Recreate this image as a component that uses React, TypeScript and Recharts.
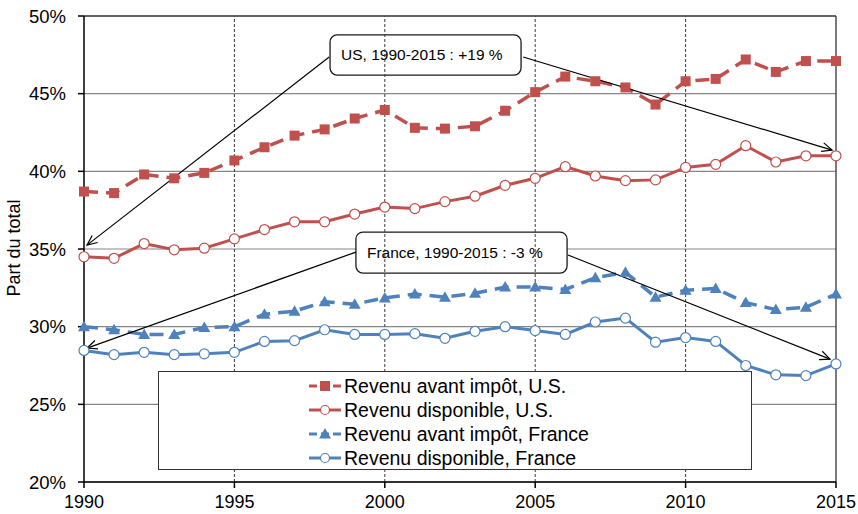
import React from 'react';
import {
  LineChart,
  Line,
  XAxis,
  YAxis,
  CartesianGrid,
  ReferenceLine,
  ReferenceArea,
  Legend,
} from 'recharts';

const years = [
  1990, 1991, 1992, 1993, 1994, 1995, 1996, 1997, 1998, 1999, 2000, 2001, 2002,
  2003, 2004, 2005, 2006, 2007, 2008, 2009, 2010, 2011, 2012, 2013, 2014, 2015,
];

const usPreTax = [
  38.7, 38.6, 39.8, 39.55, 39.9, 40.7, 41.55, 42.3, 42.7, 43.4, 43.95, 42.8, 42.75,
  42.9, 43.9, 45.1, 46.1, 45.8, 45.4, 44.3, 45.8, 45.95, 47.2, 46.4, 47.1, 47.1,
];

const usDisposable = [
  34.5, 34.4, 35.35, 34.95, 35.05, 35.65, 36.25, 36.75, 36.75, 37.25, 37.7, 37.6,
  38.05, 38.4, 39.1, 39.55, 40.3, 39.7, 39.4, 39.45, 40.25, 40.45, 41.65, 40.6, 41.0,
  41.0,
];

const frPreTax = [
  30.0, 29.8, 29.5, 29.5, 29.95, 30.0, 30.8, 31.0, 31.6, 31.45, 31.85, 32.1, 31.9,
  32.15, 32.55, 32.55, 32.4, 33.15, 33.5, 31.9, 32.35, 32.45, 31.55, 31.1, 31.25, 32.1,
];

const frDisposable = [
  28.47, 28.2, 28.35, 28.2, 28.25, 28.35, 29.05, 29.1, 29.8, 29.5, 29.5, 29.55, 29.25,
  29.7, 30.0, 29.75, 29.5, 30.3, 30.55, 29.0, 29.3, 29.05, 27.5, 26.9, 26.85, 27.6,
];

const xTicks = [1990, 1995, 2000, 2005, 2010, 2015];
const yTicks = [20, 25, 30, 35, 40, 45, 50];
const vGridYears = [1995, 2000, 2005, 2010];

const seriesNames = [
  'Revenu avant impôt, U.S.',
  'Revenu disponible, U.S.',
  'Revenu avant impôt, France',
  'Revenu disponible, France',
];

// Annotation callouts (data coordinates)
const usLabel = 'US, 1990-2015 : +19 %';
const usBox = { x1: 1998.18, x2: 2004.53, y1: 46.2, y2: 48.78 };
const usArrows = [
  [{ x: 1998.15, y: 47.36 }, { x: 1990.1, y: 35.25 }],
  [{ x: 2004.6, y: 47.36 }, { x: 2014.87, y: 41.37 }],
];
const frLabel = 'France, 1990-2015 : -3 %';
const frBox = { x1: 1999.04, x2: 2006.06, y1: 33.45, y2: 36.09 };
const frArrows = [
  [{ x: 1999.04, y: 34.8 }, { x: 1990.1, y: 28.62 }],
  [{ x: 2006.09, y: 34.61 }, { x: 2014.8, y: 27.91 }],
];

const data = years.map((year, i) => ({
  year,
  usPre: usPreTax[i],
  usDisp: usDisposable[i],
  frPre: frPreTax[i],
  frDisp: frDisposable[i],
}));

const RED = '#C0504D';
const BLUE = '#4F81BD';
const FONT = 'Arial, "Liberation Sans", Helvetica, sans-serif';

const SquareDot = (props: any) => {
  const { cx, cy } = props;
  if (cx == null || cy == null) return <g />;
  return <rect x={cx - 5} y={cy - 5} width={10} height={10} fill={RED} />;
};

const TriangleDot = (props: any) => {
  const { cx, cy } = props;
  if (cx == null || cy == null) return <g />;
  const s = 6;
  return (
    <path
      d={`M${cx},${cy - s} L${cx + s},${cy + s * 0.75} L${cx - s},${cy + s * 0.75} Z`}
      fill={BLUE}
    />
  );
};

const makeCircleDot = (color: string) => (props: any) => {
  const { cx, cy } = props;
  if (cx == null || cy == null) return <g />;
  return <circle cx={cx} cy={cy} r={5} fill="#fff" stroke={color} strokeWidth={1.2} />;
};

const arrowShape = (p: any) => {
  const { x1, y1, x2, y2 } = p;
  const ang = Math.atan2(y2 - y1, x2 - x1);
  const L = 11;
  const a = 0.42;
  const ax1 = x2 - L * Math.cos(ang - a);
  const ay1 = y2 - L * Math.sin(ang - a);
  const ax2 = x2 - L * Math.cos(ang + a);
  const ay2 = y2 - L * Math.sin(ang + a);
  return (
    <g>
      <line x1={x1} y1={y1} x2={x2} y2={y2} stroke="#000" strokeWidth={1.2} />
      <path
        d={`M${ax1},${ay1} L${x2},${y2} L${ax2},${ay2}`}
        fill="none"
        stroke="#000"
        strokeWidth={1.2}
      />
    </g>
  );
};

const boxShape = (label: string, fontSize: number) => (p: any) => {
  const { x, y, width, height } = p;
  return (
    <g>
      <rect
        x={x}
        y={y}
        width={width}
        height={height}
        rx={7}
        ry={7}
        fill="#fff"
        stroke="#1a1a1a"
        strokeWidth={1.3}
      />
      <text
        x={x + 11}
        y={y + height / 2}
        dominantBaseline="central"
        fontSize={fontSize}
        fontFamily={FONT}
        fill="#000"
      >
        {label}
      </text>
    </g>
  );
};

const legendIcons = [
  { color: RED, dashed: true, marker: 'square' },
  { color: RED, dashed: false, marker: 'circle' },
  { color: BLUE, dashed: true, marker: 'triangle' },
  { color: BLUE, dashed: false, marker: 'circle' },
];

const LegendContent = () => (
  <div
    style={{
      width: '100%',
      height: '100%',
      boxSizing: 'border-box',
      border: '1px solid #333',
      background: '#fff',
      paddingTop: 2,
      fontFamily: FONT,
    }}
  >
    {seriesNames.map((name, i) => {
      const ic = legendIcons[i];
      return (
        <div
          key={name}
          style={{
            display: 'flex',
            alignItems: 'center',
            height: 24,
            marginLeft: 149,
          }}
        >
          <svg width={34} height={14} style={{ marginRight: 2, flexShrink: 0 }}>
            <line
              x1={1}
              y1={7}
              x2={33}
              y2={7}
              stroke={ic.color}
              strokeWidth={3}
              strokeDasharray={ic.dashed ? '8 4' : undefined}
            />
            {ic.marker === 'square' && <rect x={12} y={2} width={10} height={10} fill={ic.color} />}
            {ic.marker === 'triangle' && (
              <path d="M17,1 L23,11.5 L11,11.5 Z" fill={ic.color} />
            )}
            {ic.marker === 'circle' && (
              <circle cx={17} cy={7} r={4.5} fill="#fff" stroke={ic.color} strokeWidth={1.2} />
            )}
          </svg>
          <span style={{ fontSize: 19.5, color: '#000', lineHeight: '22px', whiteSpace: 'nowrap' }}>
            {name}
          </span>
        </div>
      );
    })}
  </div>
);

const YLabel = (props: any) => {
  const vb = props.viewBox || { y: 16, height: 466 };
  const cy = vb.y + vb.height / 2 - 1;
  return (
    <text
      x={14}
      y={cy}
      transform={`rotate(-90, 14, ${cy})`}
      textAnchor="middle"
      dominantBaseline="central"
      fontSize={18}
      fontFamily={FONT}
      fill="#000"
    >
      Part du total
    </text>
  );
};

export default function App() {
  return (
    <div style={{ position: 'absolute', left: 0, top: 0, width: 858, height: 514, background: '#fff' }}>
      <LineChart
        width={858}
        height={514}
        data={data}
        margin={{ top: 16, right: 22, bottom: 0, left: 0 }}
      >
        <CartesianGrid horizontal vertical={false} stroke="#868686" strokeWidth={1.2} />
        {vGridYears.map((yr) => (
          <ReferenceLine key={yr} x={yr} stroke="#3a3a3a" strokeWidth={1} strokeDasharray="3 2" />
        ))}
        <ReferenceLine x={2015} stroke="#333" strokeWidth={1.3} />
        <ReferenceLine y={50} stroke="#444" strokeWidth={1.3} />
        <XAxis
          type="number"
          dataKey="year"
          domain={[1990, 2015]}
          ticks={xTicks}
          allowDecimals={false}
          height={32}
          tickSize={6}
          tickMargin={7}
          stroke="#000"
          strokeWidth={1.5}
          tick={{ fill: '#000', fontSize: 18, fontFamily: FONT }}
          tickLine={{ stroke: '#000' }}
        />
        <YAxis
          type="number"
          domain={[20, 50]}
          ticks={yTicks}
          width={84}
          tickSize={6}
          tickMargin={12}
          stroke="#000"
          strokeWidth={1.5}
          tickFormatter={(v: number) => `${v}%`}
          tick={{ fill: '#000', fontSize: 18.5, fontFamily: FONT }}
          tickLine={{ stroke: '#000' }}
          label={(p: any) => <YLabel {...p} />}
        />
        <Line
          type="linear"
          dataKey="usPre"
          name={seriesNames[0]}
          stroke={RED}
          strokeWidth={3.5}
          strokeDasharray="14 8"
          dot={SquareDot}
          isAnimationActive={false}
        />
        <Line
          type="linear"
          dataKey="usDisp"
          name={seriesNames[1]}
          stroke={RED}
          strokeWidth={3}
          dot={makeCircleDot(RED)}
          isAnimationActive={false}
        />
        <Line
          type="linear"
          dataKey="frPre"
          name={seriesNames[2]}
          stroke={BLUE}
          strokeWidth={3.5}
          strokeDasharray="14 8"
          dot={TriangleDot}
          isAnimationActive={false}
        />
        <Line
          type="linear"
          dataKey="frDisp"
          name={seriesNames[3]}
          stroke={BLUE}
          strokeWidth={3}
          dot={makeCircleDot(BLUE)}
          isAnimationActive={false}
        />
        {[...usArrows, ...frArrows].map((seg, i) => (
          <ReferenceLine key={`arrow${i}`} segment={seg as any} shape={arrowShape} ifOverflow="visible" />
        ))}
        <ReferenceArea
          x1={usBox.x1}
          x2={usBox.x2}
          y1={usBox.y1}
          y2={usBox.y2}
          shape={boxShape(usLabel, 15.5)}
          ifOverflow="visible"
        />
        <ReferenceArea
          x1={frBox.x1}
          x2={frBox.x2}
          y1={frBox.y1}
          y2={frBox.y2}
          shape={boxShape(frLabel, 15.5)}
          ifOverflow="visible"
        />
        <Legend
          layout="vertical"
          align="center"
          verticalAlign="middle"
          content={<LegendContent />}
          wrapperStyle={{ position: 'absolute', left: 158, top: 371, width: 594, height: 99, margin: 0 }}
        />
      </LineChart>
    </div>
  );
}
